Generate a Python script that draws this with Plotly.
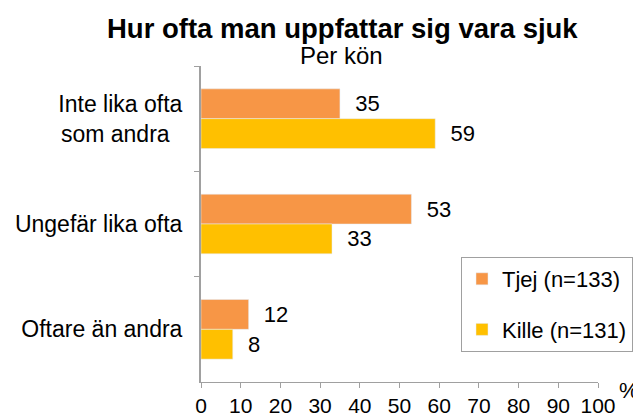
import plotly.graph_objects as go

categories = ["Inte lika ofta<br>som andra\u00a0\u00a0", "Ungefär lika ofta", "Oftare än andra"]
tjej = [35, 53, 12]
kille = [59, 33, 8]
series_names = ["Tjej (n=133)", "Kille (n=131)"]
x_ticks = [0, 10, 20, 30, 40, 50, 60, 70, 80, 90, 100]

FONT = "Arial, Liberation Sans, sans-serif"
NB = "\u00a0\u00a0"

# the page body has an 8px margin, so the figure is placed at (8, 8)
OFF = 8
W, H = 641 - OFF, 419 - OFF
PL, PT, PR, PB = 201, 66, 598, 382  # plot area in page pixels

fig = go.Figure()
fig.add_trace(go.Bar(
    y=categories, x=tjej, orientation="h", name=series_names[0],
    marker=dict(color="#F79646"), legendgroup="a",
    text=[NB + str(v) for v in tjej], textposition="outside",
    textfont=dict(size=22, color="#000000", family=FONT), cliponaxis=False,
))
fig.add_trace(go.Bar(
    y=categories, x=kille, orientation="h", name=series_names[1],
    marker=dict(color="#FFC000"), legendgroup="b",
    text=[NB + str(v) for v in kille], textposition="outside",
    textfont=dict(size=22, color="#000000", family=FONT), cliponaxis=False,
))

pw, ph = PR - PL, PB - PT
fig.update_layout(
    width=W, height=H,
    margin=dict(l=PL - OFF, r=641 - PR, t=PT - OFF, b=419 - PB, autoexpand=False),
    paper_bgcolor="white", plot_bgcolor="white",
    font=dict(family=FONT, size=21, color="#000000"),
    barmode="group", bargap=0.434, bargroupgap=0,
    showlegend=True,
    legend=dict(
        x=(461 - PL) / pw, y=(PB - 257) / ph, xanchor="left", yanchor="top",
        bordercolor="#A0A0A0", borderwidth=1, bgcolor="white",
        font=dict(size=22, family=FONT), traceorder="grouped",
        tracegroupgap=19,
    ),
)

fig.update_xaxes(
    range=[0, 100], tickvals=x_ticks, ticktext=[str(v) for v in x_ticks],
    showgrid=False, zeroline=False, showline=True, linecolor="#A0A0A0", linewidth=1,
    ticks="outside", ticklen=5, tickcolor="#A0A0A0", automargin=False,
    tickfont=dict(size=21, family=FONT), fixedrange=True,
)
fig.update_yaxes(
    autorange="reversed", showgrid=False, zeroline=False,
    showline=True, linecolor="#A0A0A0", linewidth=2, automargin=False,
    ticks="outside", ticklen=5, tickcolor="#A0A0A0", tickson="boundaries",
    tickfont=dict(size=23, family=FONT), ticklabelstandoff=12,
)

fig.add_annotation(text="<b>Hur ofta man uppfattar sig vara sjuk</b>", xref="paper", yref="paper",
                   x=(342 - PL) / pw, y=1, yshift=20, xanchor="center", yanchor="bottom",
                   showarrow=False, font=dict(size=27.5, family=FONT, color="#000000"))
fig.add_annotation(text="Per kön", xref="paper", yref="paper",
                   x=(341 - PL) / pw, y=1, yshift=-5, xanchor="center", yanchor="bottom",
                   showarrow=False, font=dict(size=24, family=FONT, color="#000000"))
fig.add_annotation(text="%", xref="paper", yref="paper",
                   x=1.0, y=0, xshift=19, xanchor="left", yanchor="top", yshift=6,
                   showarrow=False, font=dict(size=22, family=FONT, color="#000000"))

fig.write_html("out.html")
